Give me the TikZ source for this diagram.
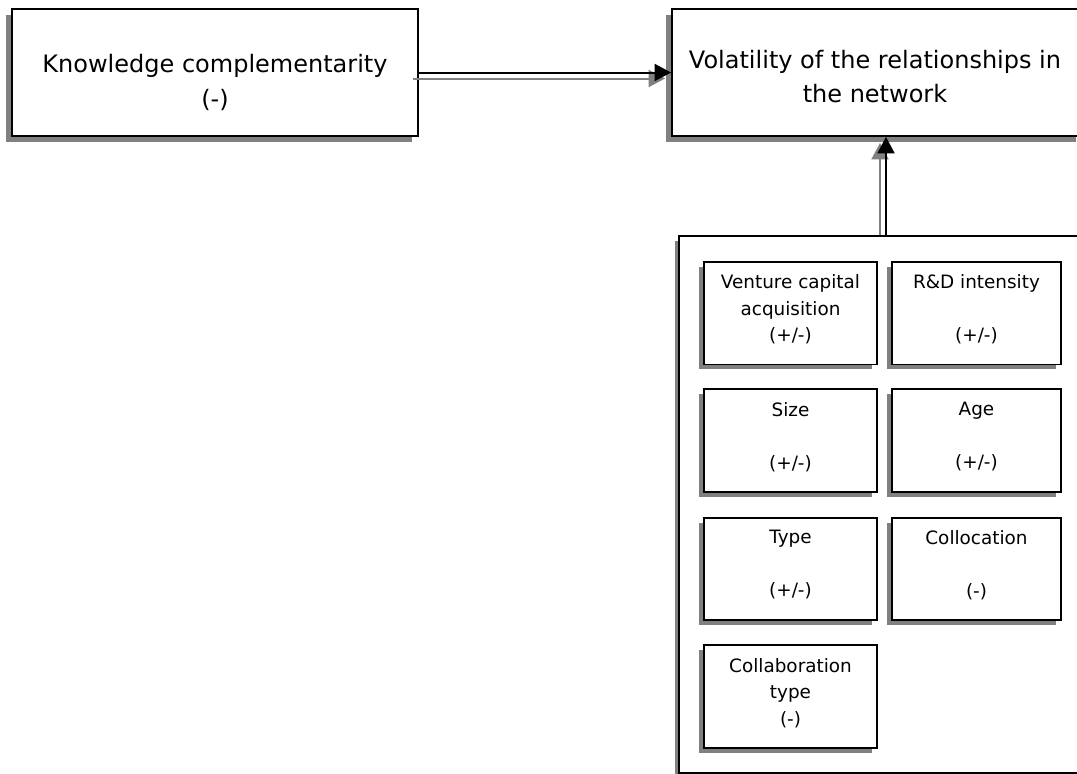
\documentclass[tikz,border=0pt]{standalone}
\usepackage{fontspec}
\setmainfont{DejaVu Sans}
\usetikzlibrary{shadows,arrows.meta}
\begin{document}
\begin{tikzpicture}[x=1pt,y=-1pt,
  mainbox/.style={draw=black, line width=1.8pt, fill=white, inner sep=0pt,
    drop shadow={shadow xshift=-6pt, shadow yshift=-6pt, fill=black!50, opacity=1}},
  groupbox/.style={draw=black, line width=1.5pt, fill=white, inner sep=0pt,
    drop shadow={shadow xshift=-4.5pt, shadow yshift=-4.5pt, fill=black!50, opacity=1}},
  factorbox/.style={draw=black, line width=1.8pt, fill=white, inner sep=0pt,
    minimum height=102.5pt,
    drop shadow={shadow xshift=-5pt, shadow yshift=-5pt, fill=black!50, opacity=1}},
  maintext/.style={anchor=north, inner sep=0pt, align=center,
    font=\fontsize{24}{34.5}\selectfont},
  factortext/.style={anchor=north, inner sep=0pt, align=center,
    font=\fontsize{18.4}{26.5}\selectfont},
  link/.style={line width=2pt, draw=black, -{Triangle[length=16.5pt,width=17pt]}},
  linkshadow/.style={line width=2pt, draw=black!50,
    -{Triangle[length=16.5pt,width=17pt,fill=black!50]}}
]
\clip (0,0) rectangle (1077,774);

% outer boxes
\node[mainbox, minimum width=406pt, minimum height=127pt] (kc) at (215,72.5) {};
\node[mainbox, minimum width=410pt, minimum height=127pt] (vol) at (877,72.5) {};
\node[groupbox, minimum width=406pt, minimum height=537pt] (grp) at (882,504.5) {};

% factor boxes
\node[factorbox, minimum width=173pt] (vc)   at (790.5,313.2) {};
\node[factorbox, minimum width=169pt] (rd)   at (976.5,313.2) {};
\node[factorbox, minimum width=173pt] (size) at (790.5,440.5) {};
\node[factorbox, minimum width=169pt] (age)  at (976.5,440.5) {};
\node[factorbox, minimum width=173pt] (type) at (790.5,569) {};
\node[factorbox, minimum width=169pt] (col)  at (976.5,569) {};
\node[factorbox, minimum width=173pt] (ctyp) at (790.5,696.5) {};

% texts
\node[maintext] (kct) at (215,54.5) {Knowledge complementarity\\(-)};
\node[maintext] (volt) at (875,50) {Volatility of the relationships in\\the network};

\node[factortext] (vct)   at ([yshift=-13.5pt]vc.north)   {Venture capital\\acquisition\\(+/-)};
\node[factortext] (rdt)   at ([yshift=-13.5pt]rd.north)   {R\&D intensity\\\mbox{}\\(+/-)};
\node[factortext] (sizet) at ([yshift=-13.5pt]size.north) {Size\\\mbox{}\\(+/-)};
\node[factortext] (aget)  at ([yshift=-13.5pt]age.north)  {Age\\\mbox{}\\(+/-)};
\node[factortext] (typet) at ([yshift=-13.5pt]type.north) {Type\\\mbox{}\\(+/-)};
\node[factortext] (colt)  at ([yshift=-13.5pt]col.north)  {Collocation\\\mbox{}\\(-)};
\node[factortext] (ctypt) at ([yshift=-13.5pt]ctyp.north) {Collaboration\\type\\(-)};

% connectors: grey shadow first, black line on top
\coordinate (ax) at (886,0);
\coordinate (sx) at (880,0);
\path (vol.south -| sx) coordinate (vs);
\path (grp.north -| sx) coordinate (gs);

\draw[linkshadow] ([shift={(-6pt,-6pt)}]kc.east) -- ([shift={(-6pt,-6pt)}]vol.west);
\draw[link] (kc.east) -- (vol.west);

\draw[linkshadow] (gs) -- ([yshift=-6pt]vs);
\draw[link] (grp.north -| ax) -- (vol.south -| ax);
\end{tikzpicture}
\end{document}
